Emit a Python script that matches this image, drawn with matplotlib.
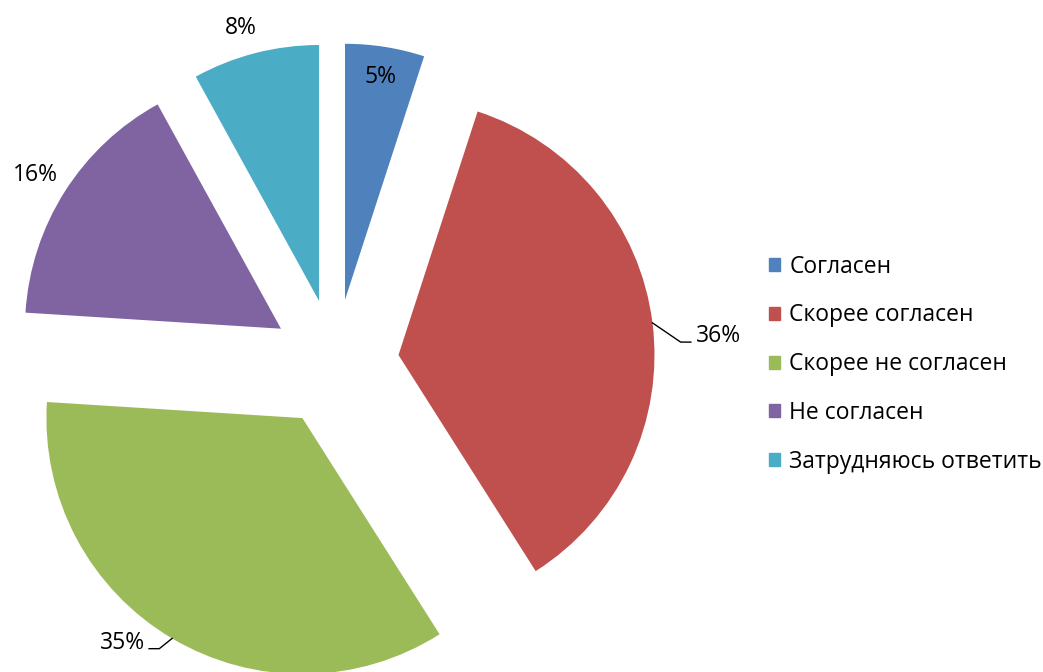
import numpy as np
import matplotlib.pyplot as plt

plt.rcParams['font.family'] = ['Open Sans', 'DejaVu Sans']

labels = ["Согласен", "Скорее согласен", "Скорее не согласен", "Не согласен", "Затрудняюсь ответить"]
values = [5, 36, 35, 16, 8]
colors = ["#4F81BD", "#C0504D", "#9BBB59", "#8064A2", "#4BACC6"]

W, H = 1043, 672
R = 256.0  # pie radius in px
cx, cy = 335.0, 363.0  # pie center in px (from top-left)

fig = plt.figure(figsize=(W / 100, H / 100), dpi=100)
ax = fig.add_axes([0, 0, 1, 1])
wedges, _ = ax.pie(values, colors=colors, startangle=90, counterclock=False,
                   explode=[0.25] * len(values), radius=1.0,
                   wedgeprops=dict(linewidth=0))
ax.set_aspect('auto')
ax.set_xlim(-cx / R, (W - cx) / R)
ax.set_ylim(-(H - cy) / R, cy / R)
ax.axis('off')

fs = 16.5
# label radius / angle tweak for the slices without leader lines
lab_r = {0: (0.88, 0.0), 4: (1.11, 1.6), 3: (1.13, 0.4)}
for i, w in enumerate(wedges):
    mid = np.deg2rad((w.theta1 + w.theta2) / 2)
    ox, oy = w.center
    txt = f"{values[i]}%"
    if i in lab_r:
        r, da = lab_r[i]
        a = mid + np.deg2rad(da)
        ax.text(ox + r * np.cos(a), oy + r * np.sin(a), txt, fontsize=fs,
                ha='center', va='center')
    else:
        sx, sy = ox + np.cos(mid), oy + np.sin(mid)
        if np.cos(mid) > 0:
            ex, ey = sx + 0.11, sy - 0.075
            fx = ex + 0.04
            ax.plot([sx, ex, fx], [sy, ey, ey], color='black', lw=1)
            ax.text(fx + 0.02, ey, txt, fontsize=fs, ha='left', va='baseline')
        else:
            ex, ey = sx - 0.05, sy - 0.04
            fx = ex - 0.04
            ax.plot([sx, ex, fx], [sy, ey, ey], color='black', lw=1)
            ax.text(fx - 0.015, ey, txt, fontsize=fs, ha='right', va='baseline')

handles = [plt.Rectangle((0, 0), 1, 1, color=c) for c in colors]
fig.legend(handles, labels, loc='center left', bbox_to_anchor=(0.737, 0.458),
           frameon=False, fontsize=fs, handlelength=0.5, handleheight=0.5,
           handletextpad=0.4, labelspacing=1.08, borderpad=0, borderaxespad=0)

fig.savefig("out.png", dpi=100)
